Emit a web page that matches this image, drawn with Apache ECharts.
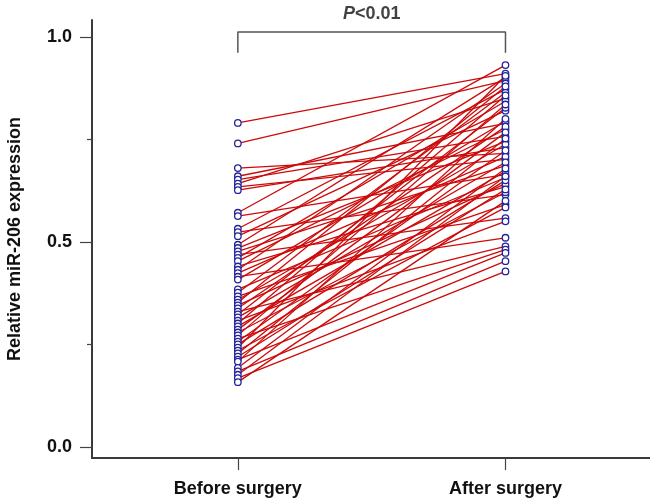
<!DOCTYPE html>
<html>
<head>
<meta charset="utf-8">
<script src="https://cdn.jsdelivr.net/npm/echarts@6/dist/echarts.min.js"></script>
<style>html,body{margin:0;padding:0;background:#fff}#c{width:650px;height:500px}</style>
</head>
<body>
<div id="c"></div>
<script>
var groups = ['Before surgery', 'After surgery'];
var groupX = [1, 2];
var yTickLabels = [0, 0.5, 1.0];
var yMinorTicks = [0.25, 0.75];
var before = [0.79,0.74,0.68,0.66,0.652,0.642,0.634,0.626,0.571,0.563,0.532,0.524,0.514,0.493,0.485,0.477,0.469,0.461,0.453,0.440,0.432,0.424,0.415,0.408,0.384,0.376,0.367,0.359,0.352,0.345,0.338,0.330,0.323,0.316,0.308,0.301,0.294,0.286,0.279,0.272,0.264,0.257,0.250,0.242,0.235,0.228,0.220,0.213,0.208,0.193,0.184,0.176,0.168,0.158];
var after = [0.910,0.893,0.716,0.789,0.757,0.850,0.701,0.730,0.931,0.664,0.872,0.615,0.820,0.901,0.745,0.686,0.558,0.843,0.774,0.635,0.886,0.708,0.510,0.794,0.657,0.864,0.591,0.738,0.879,0.642,0.781,0.489,0.827,0.694,0.550,0.857,0.672,0.767,0.621,0.835,0.481,0.723,0.650,0.905,0.584,0.752,0.628,0.473,0.800,0.679,0.453,0.660,0.428,0.600];
var bracketLow = 0.961, bracketHigh = 1.012;
var pText = 'P<0.01';

var font = '"Liberation Sans", Arial, sans-serif';
var series = [];
before.forEach(function (b, i) {
  series.push({
    type: 'line', silent: true, showSymbol: false, symbol: 'none', z: 2,
    lineStyle: { color: '#cc0a0a', width: 1.3 },
    data: [[groupX[0], b], [groupX[1], after[i]]]
  });
});
var pts = [];
before.forEach(function (b) { pts.push([groupX[0], b]); });
after.forEach(function (a) { pts.push([groupX[1], a]); });
series.push({
  type: 'scatter', z: 5, symbol: 'circle', symbolSize: 6.5,
  itemStyle: { color: '#ffffff', borderColor: '#23239a', borderWidth: 1.3, opacity: 1 },
  data: pts
});
series.push({
  type: 'line', z: 3, symbol: 'none', silent: true,
  lineStyle: { color: '#555', width: 1.5 },
  data: [[groupX[0], bracketLow], [groupX[0], bracketHigh], [groupX[1], bracketHigh], [groupX[1], bracketLow]]
});
series.push({
  type: 'scatter', z: 4, symbolSize: 0, silent: true,
  data: [[(groupX[0] + groupX[1]) / 2, bracketHigh]],
  label: {
    show: true, position: 'top', distance: 9,
    formatter: '{i|P}{n|<0.01}',
    rich: {
      i: { fontStyle: 'italic', fontWeight: 'bold', fontSize: 18, fontFamily: font, color: '#111' },
      n: { fontWeight: 'bold', fontSize: 18, fontFamily: font, color: '#111' }
    }
  }
});

var chart = echarts.init(document.getElementById('c'), null, { renderer: 'canvas' });
chart.setOption({
  animation: false,
  grid: { left: 92, right: 0, top: 20, bottom: 42, containLabel: false, outerBoundsMode: 'none' },
  xAxis: {
    type: 'value', min: 0.455, max: 2.54,
    axisLine: { show: true, onZero: false, lineStyle: { color: '#3a3a3a', width: 2 } },
    axisTick: { show: true, customValues: groupX, length: 12, lineStyle: { color: '#444', width: 1.2 } },
    axisLabel: {
      customValues: groupX, margin: 22,
      formatter: function (v) { return groups[groupX.indexOf(v)] || ''; },
      fontFamily: font, fontWeight: 'bold', fontSize: 18, color: '#111'
    },
    splitLine: { show: false }
  },
  yAxis: [{
    type: 'value', min: -0.027, max: 1.041,
    name: 'Relative miR-206 expression', nameLocation: 'middle', nameGap: 68, nameRotate: 90,
    nameTextStyle: { fontFamily: font, fontWeight: 'bold', fontSize: 18, color: '#111' },
    axisLine: { show: true, onZero: false, lineStyle: { color: '#3a3a3a', width: 2 } },
    axisTick: { show: true, customValues: yTickLabels, length: 12, lineStyle: { color: '#444', width: 1.2 } },
    axisLabel: {
      customValues: yTickLabels, margin: 20,
      formatter: function (v) { return v.toFixed(1); },
      fontFamily: font, fontWeight: 'bold', fontSize: 18, color: '#111'
    },
    splitLine: { show: false }
  }, {
    type: 'value', min: -0.027, max: 1.041, position: 'left', offset: 0,
    axisLine: { show: false, onZero: false },
    axisTick: { show: true, customValues: yMinorTicks, length: 5, lineStyle: { color: '#444', width: 1.2 } },
    axisLabel: { show: false },
    splitLine: { show: false }
  }],
  series: series
});
</script>
</body>
</html>
